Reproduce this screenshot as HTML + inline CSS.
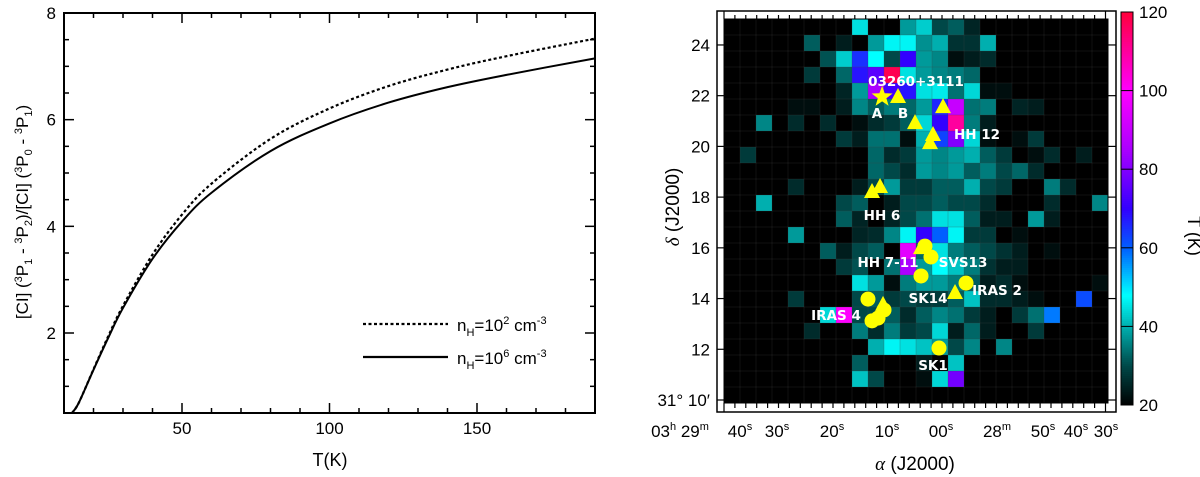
<!DOCTYPE html>
<html><head><meta charset="utf-8">
<style>
html,body{margin:0;padding:0;background:#fff;}
svg{display:block;font-family:"Liberation Sans",sans-serif;}
</style></head>
<body>
<svg id="fig" width="1200" height="477" viewBox="0 0 1200 477" xmlns="http://www.w3.org/2000/svg">
<g id="left"></g>
<g id="right"></g>
</svg>
<script>
// ---- Left chart data ----
const temps = [12.7,15,20,25,30,40,50,60,80,100,120,140,160,190];
const ratioLowDensity = [0.5,0.69,1.32,1.94,2.51,3.47,4.22,4.80,5.64,6.21,6.63,6.94,7.19,7.52];
const ratioHighDensity = [0.5,0.69,1.31,1.91,2.47,3.39,4.09,4.63,5.41,5.93,6.32,6.61,6.84,7.15];
const xTicks = [50,100,150];
const yTicks = [2,4,6,8];

// ---- Right map data ----
// cell values: [row, col, T(K)]
const cells = [
[0,8,45],[0,11,38],[0,12,43],[0,13,30],[0,14,32],[0,15,25],
[1,5,32],[1,7,24],[1,9,38],[1,10,47],[1,11,47],[1,12,37],[1,13,40],[1,14,27],[1,15,27],[1,16,40],
[2,6,31],[2,7,43],[2,8,65],[2,9,48],[2,10,30],[2,11,70],[2,12,38],[2,13,36],[2,14,22],[2,15,24],[2,16,26],
[3,5,28],[3,7,33],[3,8,68],[3,9,75],[3,10,118],[3,11,45],[3,12,38],[3,13,36],[3,14,35],[3,15,33],
[4,7,25],[4,8,38],[4,9,85],[4,10,72],[4,11,68],[4,12,45],[4,13,46],[4,14,34],[4,15,44],[4,16,22],[4,17,22],
[5,4,22],[5,5,22],[5,7,24],[5,8,36],[5,9,32],[5,10,35],[5,11,33],[5,12,38],[5,13,66],[5,14,90],[5,15,34],[5,16,35],[5,18,25],[5,19,24],
[6,2,36],[6,4,26],[6,6,26],[6,8,22],[6,9,26],[6,10,28],[6,11,32],[6,12,44],[6,13,70],[6,14,110],[6,15,35],[6,16,24],
[7,7,28],[7,8,24],[7,9,34],[7,10,34],[7,11,22],[7,12,40],[7,13,63],[7,14,80],[7,15,44],[7,16,22],[7,18,22],[7,19,28],
[8,1,28],[8,9,33],[8,10,26],[8,11,28],[8,12,38],[8,13,36],[8,14,38],[8,15,40],[8,16,32],[8,17,28],[8,19,22],[8,20,26],[8,22,24],
[9,9,33],[9,10,30],[9,11,26],[9,12,38],[9,13,36],[9,14,38],[9,15,32],[9,16,35],[9,17,30],[9,18,33],[9,19,26],
[10,4,26],[10,8,24],[10,9,30],[10,10,38],[10,11,28],[10,12,28],[10,13,32],[10,14,32],[10,15,40],[10,16,30],[10,17,28],[10,20,35],[10,21,26],
[11,2,40],[11,7,30],[11,8,32],[11,10,24],[11,11,30],[11,12,30],[11,13,32],[11,14,30],[11,15,30],[11,16,26],[11,20,26],[11,23,36],
[12,7,32],[12,8,25],[12,10,25],[12,11,30],[12,12,34],[12,13,45],[12,14,45],[12,15,32],[12,16,24],[12,17,24],[12,19,38],[12,20,24],
[13,4,38],[13,8,25],[13,9,26],[13,10,36],[13,11,47],[13,12,70],[13,13,60],[13,14,47],[13,15,28],[13,16,28],[13,18,22],
[14,6,32],[14,7,24],[14,8,30],[14,9,32],[14,11,95],[14,12,33],[14,13,45],[14,14,35],[14,15,32],[14,16,30],[14,17,27],[14,18,24],[14,20,22],
[15,7,28],[15,8,31],[15,10,34],[15,11,85],[15,12,38],[15,13,48],[15,14,42],[15,15,35],[15,16,27],[15,17,24],[15,18,24],
[16,8,45],[16,9,38],[16,10,22],[16,11,35],[16,12,38],[16,13,38],[16,14,35],[16,15,32],[16,16,24],[16,17,26],[16,18,22],[16,23,22],
[17,4,28],[17,8,30],[17,9,32],[17,10,28],[17,11,30],[17,12,28],[17,13,28],[17,14,32],[17,15,42],[17,16,26],[17,17,26],[17,18,24],[17,19,22],[17,22,62],
[18,6,44],[18,7,100],[18,8,30],[18,9,30],[18,10,32],[18,11,26],[18,12,32],[18,13,36],[18,14,34],[18,15,28],[18,16,24],[18,18,28],[18,19,34],[18,20,58],
[19,5,26],[19,8,35],[19,9,26],[19,10,35],[19,11,28],[19,12,30],[19,13,44],[19,14,24],[19,15,33],[19,16,24],[19,19,28],
[20,9,40],[20,10,47],[20,11,45],[20,12,42],[20,13,38],[20,14,30],[20,15,36],[20,17,36],
[21,8,32],[21,12,24],[21,14,42],
[22,8,42],[22,9,30],[22,12,22],[22,13,44],[22,14,78]
];
const starRA = [10.9], starDec = [21.95];
const triRA = [7.98,-0.28,4.86,1.56,2.11,11.28,12.75,3.76,-2.48,10.73];
const triDec = [21.95,21.55,20.92,20.45,20.13,18.40,18.20,15.99,14.22,13.75];
const circRA = [3.03,1.93,3.76,-4.50,13.49,10.55,12.75,11.65,0.46];
const circDec = [16.07,15.64,14.89,14.61,13.98,13.55,13.12,13.23,12.05];
const decTicks = [12,14,16,18,20,22,24];
const cbTicks = [20,40,60,80,100,120];

const NS="http://www.w3.org/2000/svg";
function mk(parent,tag,attrs,text){const e=document.createElementNS(NS,tag);for(const k in attrs)e.setAttribute(k,attrs[k]);if(text!==undefined)e.textContent=text;parent.appendChild(e);return e;}

// ===== Left chart =====
const L=document.getElementById('left');
const lx=t=>64+(t-10)*(531/180);
const ly=v=>413-(v-0.5)*(400/7.5);
let fr=mk(L,'rect',{x:64,y:13,width:531,height:400,fill:'none',stroke:'#000','stroke-width':2});

for(let t=20;t<=190;t+=10){const maj=t%50===0;const h=maj?10:5;
 mk(L,'line',{x1:lx(t),x2:lx(t),y1:413,y2:413-h,stroke:'#000','stroke-width':1.5});
 mk(L,'line',{x1:lx(t),x2:lx(t),y1:13,y2:13+h,stroke:'#000','stroke-width':1.5});}
for(let v=1;v<8;v+=0.5){const maj=v%2===0;const h=maj?10:5;
 mk(L,'line',{x1:64,x2:64+h,y1:ly(v),y2:ly(v),stroke:'#000','stroke-width':1.5});
 mk(L,'line',{x1:595,x2:595-h,y1:ly(v),y2:ly(v),stroke:'#000','stroke-width':1.5});}
xTicks.forEach(t=>{const e=mk(L,'text',{x:lx(t),y:434,'text-anchor':'middle','font-size':17},String(t));
 });
yTicks.forEach(v=>{const e=mk(L,'text',{x:56,y:ly(v)+6,'text-anchor':'end','font-size':17},String(v));
 });
let xt=mk(L,'text',{x:330,y:466,'text-anchor':'middle','font-size':18},'T(K)');

let yt=mk(L,'text',{transform:'translate(28,212) rotate(-90)','text-anchor':'middle','font-size':17});

yt.innerHTML='[CI] (<tspan dy="-6" font-size="11">3</tspan><tspan dy="6">P</tspan><tspan dy="4" font-size="11">1</tspan><tspan dy="-4"> - </tspan><tspan dy="-6" font-size="11">3</tspan><tspan dy="6">P</tspan><tspan dy="4" font-size="11">2</tspan><tspan dy="-4">)/[CI] (</tspan><tspan dy="-6" font-size="11">3</tspan><tspan dy="6">P</tspan><tspan dy="4" font-size="11">0</tspan><tspan dy="-4"> - </tspan><tspan dy="-6" font-size="11">3</tspan><tspan dy="6">P</tspan><tspan dy="4" font-size="11">1</tspan><tspan dy="-4">)</tspan>';
function smooth(xs,ys){const p=xs.map((x,i)=>[lx(x),ly(ys[i])]);let d='M'+p[0][0]+','+p[0][1];
 for(let i=0;i<p.length-1;i++){const p0=p[i-1]||p[i],p1=p[i],p2=p[i+1],p3=p[i+2]||p2;
  const c1=[p1[0]+(p2[0]-p0[0])/6,p1[1]+(p2[1]-p0[1])/6],c2=[p2[0]-(p3[0]-p1[0])/6,p2[1]-(p3[1]-p1[1])/6];
  d+=` C${c1[0]},${c1[1]} ${c2[0]},${c2[1]} ${p2[0]},${p2[1]}`;}return d;}
let dl=mk(L,'path',{d:smooth(temps,ratioLowDensity),fill:'none',stroke:'#000','stroke-width':2.2,'stroke-dasharray':'3,2.5'});

let sl=mk(L,'path',{d:smooth(temps,ratioHighDensity),fill:'none',stroke:'#000','stroke-width':2});

[[324,'3,2.5','2'],[357,'','6']].forEach((l,i)=>{
 const g=mk(L,'g',{});
 mk(g,'line',{x1:363,x2:448,y1:l[0],y2:l[0],stroke:'#000','stroke-width':2.2,'stroke-dasharray':l[1]});
 const t=mk(g,'text',{x:457,y:l[0]+7,'font-size':17});
 t.innerHTML='n<tspan dy="5" font-size="11">H</tspan><tspan dy="-5">=10</tspan><tspan dy="-7" font-size="11">'+l[2]+'</tspan><tspan dy="7"> cm</tspan><tspan dy="-7" font-size="11">-3</tspan>';});

// ===== Right map =====
const R=document.getElementById('right');
const rx=s=>887-(s-10)*5.45;
const ry=d=>400-(d-10)*25.36;
const stops=[[20,[0,0,0]],[30,[0,72,72]],[40,[0,175,175]],[48,[0,255,255]],[60,[0,95,255]],[70,[50,0,255]],[85,[170,0,255]],[100,[255,0,255]],[120,[255,0,60]]];
function cmap(v){if(v<=20)return'rgb(0,0,0)';for(let i=0;i<stops.length-1;i++){const a=stops[i],b=stops[i+1];
 if(v<=b[0]){const f=(v-a[0])/(b[0]-a[0]);return'rgb('+a[1].map((c,j)=>Math.round(c+(b[1][j]-c)*f)).join(',')+')';}}return'rgb(255,0,60)';}
mk(R,'rect',{x:717,y:11,width:399,height:401,fill:'#fff',stroke:'#000','stroke-width':1.5});
let bg=mk(R,'rect',{x:724,y:19,width:384,height:384,fill:'#000'});

cells.forEach(c=>{const e=mk(R,'rect',{x:724+c[1]*16,y:19+c[0]*16,width:16,height:16,fill:cmap(c[2])});
 });
for(let i=1;i<24;i++){mk(R,'line',{x1:724+i*16,x2:724+i*16,y1:19,y2:403,stroke:'#444','stroke-width':0.5,opacity:0.5});
 mk(R,'line',{x1:724,x2:1108,y1:19+i*16,y2:19+i*16,stroke:'#444','stroke-width':0.5,opacity:0.5});}
mk(R,'rect',{x:724,y:19,width:384,height:384,fill:'none',stroke:'#000','stroke-width':1});
for(let x=724;x<=1108;x+=10.9){const maj=Math.abs(((x-724)/10.9)%5)<0.01;
 mk(R,'line',{x1:x,x2:x,y1:403,y2:maj?412:408,stroke:'#000','stroke-width':1.2});
 mk(R,'line',{x1:x,x2:x,y1:19,y2:maj?11:15,stroke:'#000','stroke-width':1.2});}
decTicks.concat([10]).forEach(d=>{mk(R,'line',{x1:717,x2:724,y1:ry(d),y2:ry(d),stroke:'#000','stroke-width':1.2});
 mk(R,'line',{x1:1108,x2:1116,y1:ry(d),y2:ry(d),stroke:'#000','stroke-width':1.2});});
decTicks.forEach(d=>{const e=mk(R,'text',{x:710,y:ry(d)+6,'text-anchor':'end','font-size':17},String(d));
 });
let d10=mk(R,'text',{x:710,y:ry(10)+6,'text-anchor':'end','font-size':17},'31° 10′');

const raLabels=[[680,'03','h',' 29','m'],[740,'40','s'],[777,'30','s'],[832,'20','s'],[887,'10','s'],[941,'00','s'],[997,'28','m'],[1043,'50','s'],[1076,'40','s'],[1106,'30','s']];
raLabels.forEach(r=>{const e=mk(R,'text',{x:r[0],y:437,'text-anchor':'middle','font-size':17});
 
 let h=r[1]+'<tspan dy="-7" font-size="11">'+r[2]+'</tspan>';if(r[3])h+='<tspan dy="7">'+r[3]+'</tspan><tspan dy="-7" font-size="11">'+r[4]+'</tspan>';e.innerHTML=h;});
let ax=mk(R,'text',{x:915,y:470,'text-anchor':'middle','font-size':19});ax.innerHTML='<tspan font-style="italic" font-family="Liberation Serif">α</tspan> (J2000)';

let ay=mk(R,'text',{transform:'translate(679,207) rotate(-90)','text-anchor':'middle','font-size':19});ay.innerHTML='<tspan font-style="italic" font-family="Liberation Serif">δ</tspan> (J2000)';

circRA.forEach((s,i)=>{const e=mk(R,'circle',{cx:rx(s),cy:ry(circDec[i]),r:7.5,fill:'#ffff00'});
 });
triRA.forEach((s,i)=>{const x=rx(s),y=ry(triDec[i]);const e=mk(R,'polygon',{points:`${x},${y-9} ${x-8},${y+6} ${x+8},${y+6}`,fill:'#ffff00'});
 });
starRA.forEach((s,i)=>{const x=rx(s),y=ry(starDec[i]);let p=[];for(let k=0;k<10;k++){const r=k%2?4.5:11,a=-Math.PI/2+k*Math.PI/5;p.push((x+r*Math.cos(a)).toFixed(1)+','+(y+r*Math.sin(a)).toFixed(1));}
 const e=mk(R,'polygon',{points:p.join(' '),fill:'#ffff00'});});
const labels=[[916,86,'03260+3111'],[877,118,'A'],[903,118,'B'],[977,139,'HH 12'],[882,220,'HH 6'],[888,267,'HH 7-11'],[963,267,'SVS13'],[928,303,'SK14'],[997,295,'IRAS 2'],[836,320,'IRAS 4'],[933,370,'SK1']];
labels.forEach(l=>{const e=mk(R,'text',{x:l[0],y:l[1],'text-anchor':'middle','font-size':13.5,'font-weight':'bold','font-family':'"DejaVu Sans",sans-serif',fill:'#fff'},l[2]);
 });
const cb=mk(R,'g',{});
const cy=v=>405-(v-20)*(393/100);
for(let v=20;v<120;v+=0.5){mk(cb,'rect',{x:1121,y:cy(v+0.5),width:12,height:393/200+0.5,fill:cmap(v+0.25)});}
mk(cb,'rect',{x:1121,y:12,width:12,height:393,fill:'none',stroke:'#000','stroke-width':1});
cbTicks.forEach(v=>{mk(cb,'line',{x1:1121,x2:1127,y1:cy(v),y2:cy(v),stroke:'#000','stroke-width':1});
 mk(cb,'line',{x1:1133,x2:1127,y1:cy(v),y2:cy(v),stroke:'#000','stroke-width':1});
 const e=mk(cb,'text',{x:1139,y:cy(v)+6,'font-size':17},String(v));});
let ct=mk(R,'text',{transform:'translate(1188,236) rotate(90)','text-anchor':'middle','font-size':18},'T (K)');

</script>
</body></html>
